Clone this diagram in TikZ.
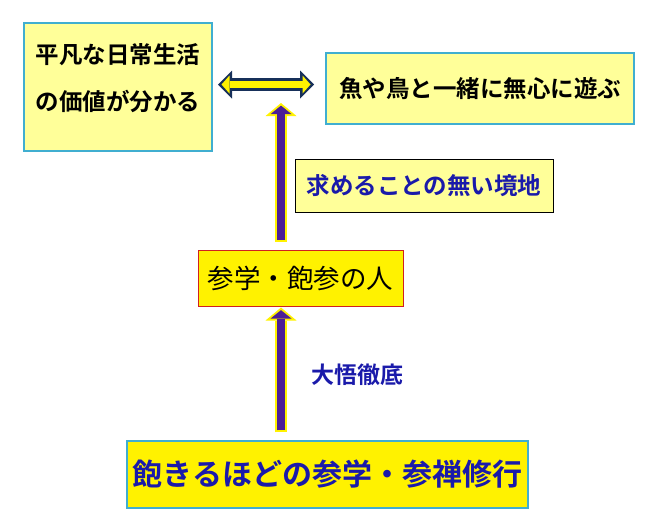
\documentclass[tikz,border=0pt]{standalone}
\usepackage{fontspec}
\newfontfamily\jpfont{Noto Sans CJK JP}[BoldFont={Noto Sans CJK JP Bold}]
\usetikzlibrary{positioning,arrows.meta,calc}
\definecolor{paleyellow}{HTML}{FFFF99}
\definecolor{boxcyan}{HTML}{40AED0}
\definecolor{textblue}{HTML}{1A1AAA}
\definecolor{arrowpurple}{HTML}{4B1E96}
\definecolor{arrownavy}{HTML}{17305A}
\definecolor{boxred}{HTML}{D02020}
\tikzset{
    box/.style = {
        draw=boxcyan,
        fill=paleyellow,
        line width=2pt,
        inner sep=0pt,
        align=center,
        font=\jpfont\bfseries\fontsize{23.5}{47}\selectfont
    },
    labelbox/.style = {
        draw=black,
        fill=paleyellow,
        line width=1pt,
        inner sep=0pt,
        text=textblue,
        font=\jpfont\bfseries\fontsize{23.5}{27}\selectfont
    },
    personbox/.style = {
        draw=boxred,
        fill=yellow,
        line width=1pt,
        inner sep=0pt,
        font=\jpfont\fontsize{26.5}{30}\selectfont
    },
    trainbox/.style = {
        draw=boxcyan,
        fill=yellow,
        line width=1.5pt,
        inner sep=0pt,
        text=textblue,
        font=\jpfont\bfseries\fontsize{30}{34}\selectfont
    },
    bluetext/.style = {
        text=textblue,
        inner sep=0pt,
        font=\jpfont\bfseries\fontsize{23}{27}\selectfont
    },
    duoout/.style = {
        draw=arrownavy,
        line width=13pt,
        {Triangle[length=14pt,width=28pt,line width=0pt]}-{Triangle[length=14pt,width=28pt,line width=0pt]}
    },
    duoin/.style = {
        draw=yellow,
        line width=7pt,
        {Triangle[length=8pt,width=18pt,line width=0pt]}-{Triangle[length=8pt,width=18pt,line width=0pt]}
    },
    upout/.style = {
        draw=yellow,
        line width=12pt,
        -{Triangle[length=13pt,width=31pt,line width=0pt]}
    },
    upin/.style = {
        draw=arrowpurple,
        line width=8pt,
        -{Triangle[length=8.5pt,width=21pt,line width=0pt]}
    },
}
\begin{document}
\begin{tikzpicture}[x=1pt,y=-1pt]
    \useasboundingbox (0,0) rectangle (652,531);

    \node[box, minimum width=188pt, minimum height=128pt] (daily) at (118,87)
        {平凡な日常生活\\の価値が分かる\rule[-20pt]{0pt}{20pt}};
    \node[box, minimum width=308pt, minimum height=71pt] (play) at (480,88.5)
        {魚や鳥と一緒に無心に遊ぶ};
    \node[labelbox, minimum width=258pt, minimum height=53pt] (mind) at (424,185.5)
        {求めることの無い境地};
    \node[personbox, minimum width=205pt, minimum height=56pt] (person) at (300.5,278)
        {参学・飽参の人};
    \node[trainbox, minimum width=401pt, minimum height=67pt] (train) at (327.5,474.5)
        {飽きるほどの参学・参禅修行};
    \node[bluetext] (satori) at (357.5,375) {大悟徹底};

    \coordinate (goal) at (281,103);
    \coordinate (mid) at (0,84.5);

    %connect
    \draw[duoout, shorten <=5pt, shorten >=11pt] (daily.east |- mid) -- (play.west |- mid);
    \draw[duoin, shorten <=8.5pt, shorten >=14.5pt] (daily.east |- mid) -- (play.west |- mid);

    \draw[upout, shorten <=8pt] (person.north -| goal) -- (goal);
    \draw[upin, shorten <=10pt, shorten >=2.6pt] (person.north -| goal) -- (goal);

    \draw[upout, shorten <=8pt, shorten >=1pt] (train.north -| goal) -- (person.south -| goal);
    \draw[upin, shorten <=10pt, shorten >=3.6pt] (train.north -| goal) -- (person.south -| goal);

\end{tikzpicture}
\end{document}
